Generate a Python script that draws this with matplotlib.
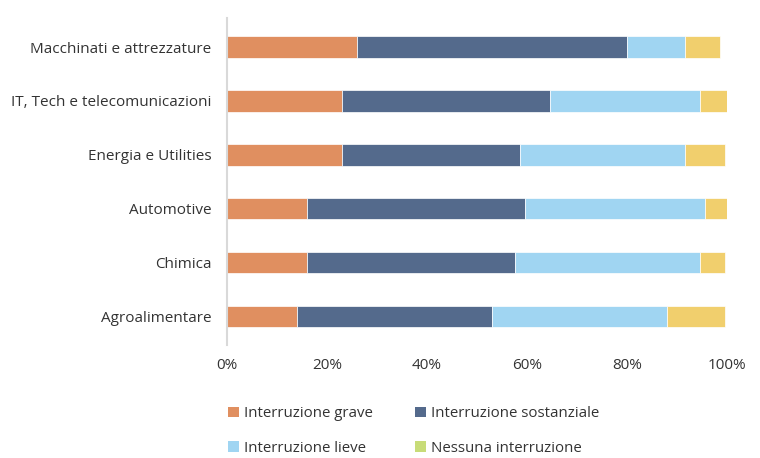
import matplotlib
matplotlib.use('Agg')
import matplotlib.pyplot as plt
from matplotlib.patches import Patch

categories = ['Macchinati e attrezzature', 'IT, Tech e telecomunicazioni',
              'Energia e Utilities', 'Automotive', 'Chimica', 'Agroalimentare']
grave = [26, 23, 23, 16, 16, 14]
sostanziale = [54, 41.5, 35.5, 43.5, 41.5, 39]
lieve = [11.5, 30, 33, 36, 37, 35]
nessuna = [7, 6.5, 8, 5, 5, 11.5]
series_names = ['Interruzione grave', 'Interruzione sostanziale',
                'Interruzione lieve', 'Nessuna interruzione']
xticks = [0, 20, 40, 60, 80, 100]

bar_colors = ['#E08F60', '#546A8C', '#A0D5F2', '#F1CF6D']
legend_colors = ['#E08F60', '#546A8C', '#A0D5F2', '#C8DC78']
txt = '#333333'

plt.rcParams['font.family'] = ['Open Sans', 'DejaVu Sans']

fig = plt.figure(figsize=(7.6, 4.58), dpi=100)
ax = fig.add_axes([0.2987, 0.2467, 0.6579, 0.714])

y = list(range(len(categories)))
left = [0] * len(categories)
for vals, col in zip([grave, sostanziale, lieve, nessuna], bar_colors):
    ax.barh(y, vals, left=left, height=0.4, color=col, edgecolor='white', linewidth=0.5)
    left = [a + b for a, b in zip(left, vals)]

ax.set_ylim(5.53, -0.54)
ax.set_xlim(0, 100)
ax.set_yticks(y)
ax.set_yticklabels(categories, fontsize=11, color=txt)
ax.set_xticks(xticks)
ax.set_xticklabels([f'{t}%' for t in xticks], fontsize=11, color=txt)
ax.tick_params(axis='y', length=0, pad=11)
ax.tick_params(axis='x', length=0, pad=9)
for s in ['top', 'right', 'bottom']:
    ax.spines[s].set_visible(False)
ax.spines['left'].set_color('#D9D9D9')
ax.spines['left'].set_linewidth(1.5)

# legend fills row by row: grave, sostanziale / lieve, nessuna
order = [0, 2, 1, 3]
handles = [Patch(facecolor=legend_colors[i], edgecolor='none') for i in order]
labels = [series_names[i] for i in order]
fig.legend(handles, labels, loc='upper left', bbox_to_anchor=(0.300, 0.113),
           ncol=2, frameon=False, fontsize=10.8, handlelength=0.7, handleheight=0.7,
           handletextpad=0.35, columnspacing=2.85, labelspacing=1.3, borderaxespad=0,
           borderpad=0, labelcolor=txt)

fig.savefig('out.png', dpi=100)
plt.close(fig)
